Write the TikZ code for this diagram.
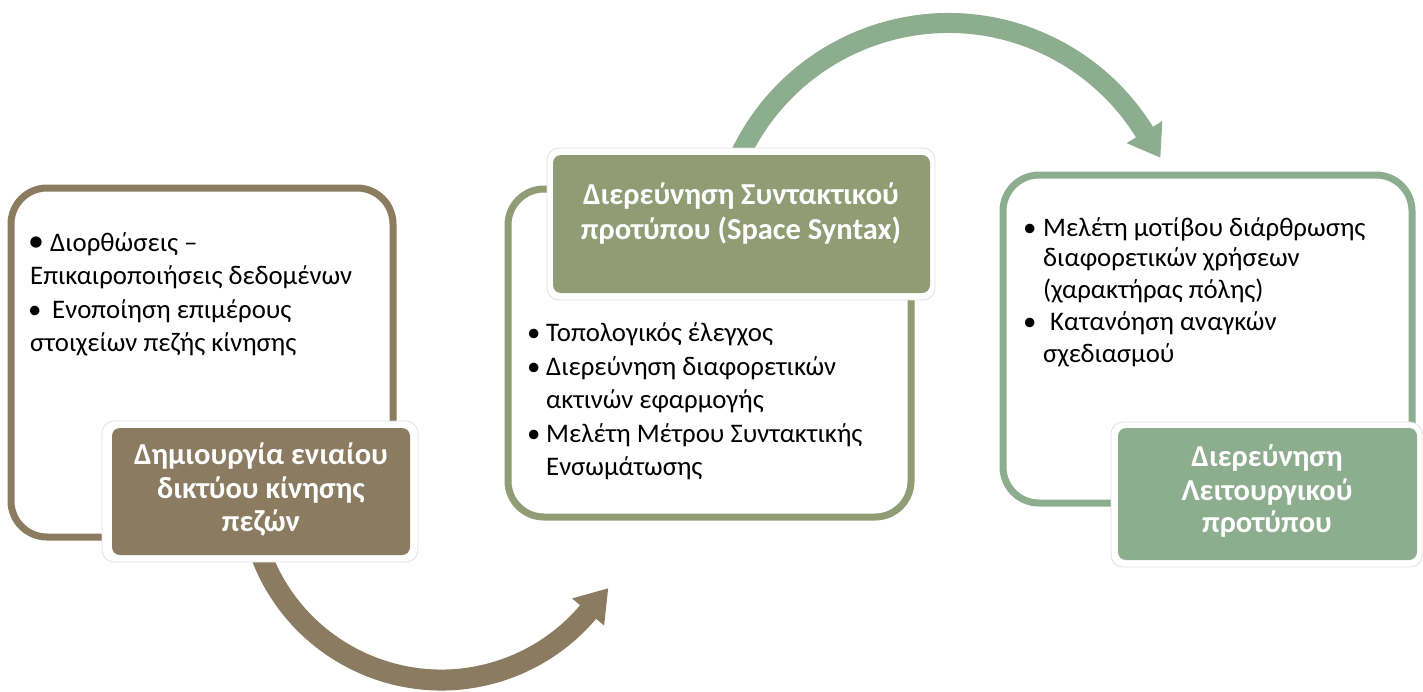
\documentclass[tikz,border=0pt]{standalone}
\usepackage{fontspec}
\setmainfont{Carlito}
\usetikzlibrary{calc}
\definecolor{brn}{HTML}{8B7B60}
\definecolor{olv}{HTML}{919B74}
\definecolor{grn}{HTML}{8DAD8F}
\newcommand\bul[1]{\makebox[#1][l]{•}}
\begin{document}
\begin{tikzpicture}[x=1pt,y=1pt,
  outerbox/.style={line width=7pt, rounded corners=36pt, fill=white},
  halo/.style={fill=white, draw=black!12, line width=0.8pt, rounded corners=12pt},
  labelfill/.style={rounded corners=8pt},
  body/.style={font=\fontsize{26.8}{33}\selectfont, anchor=base west, inner sep=0pt},
  lbl/.style={font=\bfseries\fontsize{30.5}{33}\selectfont, text=white, anchor=base, inner sep=0pt},
  shaft/.style={line width=21pt}]
\useasboundingbox (0,0) rectangle (1423,-691);

% ---- curved arrows (drawn first, behind the boxes)
\coordinate (bc) at (441.3,-487.5);
\draw[brn, shaft] ($(bc)+(200:192.5)$) arc[start angle=200, end angle=320.2, radius=192.5];
\fill[brn] ($(bc)+(319.7:213.5)$) -- ($(bc)+(319.7:192.5)+(49.7:31)$) -- ($(bc)+(319.7:171.5)$) -- cycle;

\coordinate (gc) at (948.5,-253.6);
\draw[grn, shaft, line width=20pt] ($(gc)+(155:230.6)$) arc[start angle=155, end angle=31.3, radius=230.6];
\fill[grn] ($(gc)+(31.8:251.6)$) -- ($(gc)+(31.8:230.6)+(-58.2:30)$) -- ($(gc)+(31.8:209.6)$) -- cycle;

% ---- outer boxes
\draw[brn, outerbox] (11,-188) rectangle (393,-537);
\draw[olv, outerbox] (508,-189) rectangle (911,-517);
\draw[grn, outerbox] (1003,-175) rectangle (1412,-503);

% ---- label boxes
\draw[halo] (102,-421) rectangle (418,-562);
\fill[brn, labelfill] (112,-428) rectangle (410,-555);
\draw[halo] (547,-148) rectangle (935,-300);
\fill[olv, labelfill] (553,-155) rectangle (930,-293);
\draw[halo] (1111,-422) rectangle (1422,-567);
\fill[grn, labelfill] (1118,-428) rectangle (1417,-560);

% ---- label texts
\node[lbl] (b1) at (261,-464) {Δημιουργία ενιαίου};
\node[lbl] (b2) at (261,-498) {δικτύου κίνησης};
\node[lbl] (b3) at (261,-531) {πεζών};
\node[lbl] (m1) at (741,-204) {Διερεύνηση Συντακτικού};
\node[lbl] (m2) at (741,-239) {προτύπου (Space Syntax)};
\node[lbl] (r1) at (1267,-466) {Διερεύνηση};
\node[lbl] (r2) at (1267,-500) {Λειτουργικού};
\node[lbl] (r3) at (1267,-532) {προτύπου};

% ---- left body
\node[body] (la) at (28,-251) {\makebox[22pt][l]{\fontsize{32}{33}\selectfont•}Διορθώσεις –};
\node[body] (lb) at (30,-284) {Επικαιροποιήσεις δεδομένων};
\node[body] (lc) at (28,-318) {\bul{24pt}Ενοποίηση επιμέρους};
\node[body] (ld) at (30,-351) {στοιχείων πεζής κίνησης};

% ---- middle body
\node[body] (ma) at (527,-341) {\bul{19pt}Τοπολογικός έλεγχος};
\node[body] (mb) at (527,-375) {\bul{19pt}Διερεύνηση διαφορετικών};
\node[body] (mc) at (546,-408) {ακτινών εφαρμογής};
\node[body] (md) at (527,-442) {\bul{19pt}Μελέτη Μέτρου Συντακτικής};
\node[body] (me) at (546,-475) {Ενσωμάτωσης};

% ---- right body
\node[body] (ra) at (1023,-236) {\bul{20pt}Μελέτη μοτίβου διάρθρωσης};
\node[body] (rb) at (1043,-266) {διαφορετικών χρήσεων};
\node[body] (rc) at (1043,-298) {(χαρακτήρας πόλης)};
\node[body] (rd) at (1023,-330) {\bul{27pt}Κατανόηση αναγκών};
\node[body] (re) at (1043,-362) {σχεδιασμού};
\end{tikzpicture}
\end{document}
